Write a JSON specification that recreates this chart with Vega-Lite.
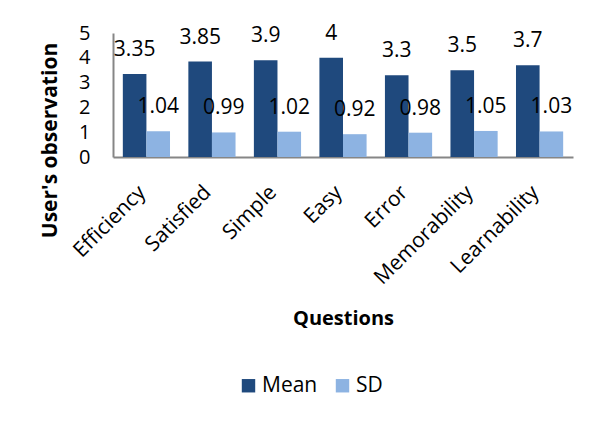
{
  "$schema": "https://vega.github.io/schema/vega-lite/v6.json",
  "width": 460,
  "height": 124,
  "autosize": {"type": "none"},
  "padding": {"left": 113, "top": 33, "right": 21, "bottom": 266},
  "config": {
    "view": {"stroke": null},
    "font": "Open Sans"
  },
  "data": {
    "values": [
      {"question": "Efficiency", "stat": "Mean", "value": 3.35},
      {"question": "Efficiency", "stat": "SD", "value": 1.04},
      {"question": "Satisfied", "stat": "Mean", "value": 3.85},
      {"question": "Satisfied", "stat": "SD", "value": 0.99},
      {"question": "Simple", "stat": "Mean", "value": 3.9},
      {"question": "Simple", "stat": "SD", "value": 1.02},
      {"question": "Easy", "stat": "Mean", "value": 4},
      {"question": "Easy", "stat": "SD", "value": 0.92},
      {"question": "Error", "stat": "Mean", "value": 3.3},
      {"question": "Error", "stat": "SD", "value": 0.98},
      {"question": "Memorability", "stat": "Mean", "value": 3.5},
      {"question": "Memorability", "stat": "SD", "value": 1.05},
      {"question": "Learnability", "stat": "Mean", "value": 3.7},
      {"question": "Learnability", "stat": "SD", "value": 1.03}
    ]
  },
  "encoding": {
    "x": {
      "field": "question",
      "type": "nominal",
      "sort": null,
      "scale": {"paddingInner": 0.28, "paddingOuter": 0.15},
      "axis": {
        "title": "Questions",
        "titleFont": "Open Sans",
        "titleFontSize": 20,
        "titleFontWeight": "bold",
        "titleColor": "#000000",
        "titleX": 230,
        "titleY": 161,
        "titleBaseline": "middle",
        "titleAlign": "center",
        "labelAngle": -45,
        "labelAlign": "right",
        "labelBaseline": "middle",
        "labelFontSize": 21,
        "labelColor": "#000000",
        "labelPadding": 32,
        "labelOffset": -4,
        "ticks": false,
        "tickSize": 0,
        "domainColor": "#868686",
        "domainWidth": 2
      }
    },
    "xOffset": {
      "field": "stat",
      "type": "nominal",
      "sort": ["Mean", "SD"],
      "scale": {"paddingInner": 0, "paddingOuter": 0}
    },
    "y": {
      "field": "value",
      "type": "quantitative",
      "scale": {"domain": [0, 5]},
      "axis": {
        "title": "User's observation",
        "titleFont": "Open Sans",
        "titleFontSize": 21,
        "titleFontWeight": "bold",
        "titleColor": "#000000",
        "titleAngle": 270,
        "titleAlign": "center",
        "titleBaseline": "middle",
        "titleX": -63,
        "titleY": 107,
        "values": [0, 1, 2, 3, 4, 5],
        "labelFontSize": 20,
        "labelColor": "#000000",
        "labelPadding": 23,
        "ticks": false,
        "tickSize": 0,
        "grid": false,
        "domainColor": "#868686",
        "domainWidth": 2
      }
    }
  },
  "layer": [
    {
      "mark": {"type": "bar"},
      "encoding": {
        "color": {
          "field": "stat",
          "type": "nominal",
          "scale": {"domain": ["Mean", "SD"], "range": ["#1F497D", "#8DB3E2"]},
          "legend": {
            "title": null,
            "orient": "none",
            "legendX": 125,
            "legendY": 342,
            "direction": "horizontal",
            "symbolType": "square",
            "symbolSize": 180,
            "symbolStrokeWidth": 0,
            "labelFontSize": 21,
            "labelColor": "#000000",
            "labelOffset": 3,
            "columnPadding": 14,
            "padding": 0
          }
        }
      }
    },
    {
      "mark": {"type": "text", "baseline": "alphabetic", "dy": -18, "fontSize": 21, "color": "#000000"},
      "encoding": {
        "text": {"field": "value", "type": "quantitative", "format": "~g"}
      }
    }
  ]
}
